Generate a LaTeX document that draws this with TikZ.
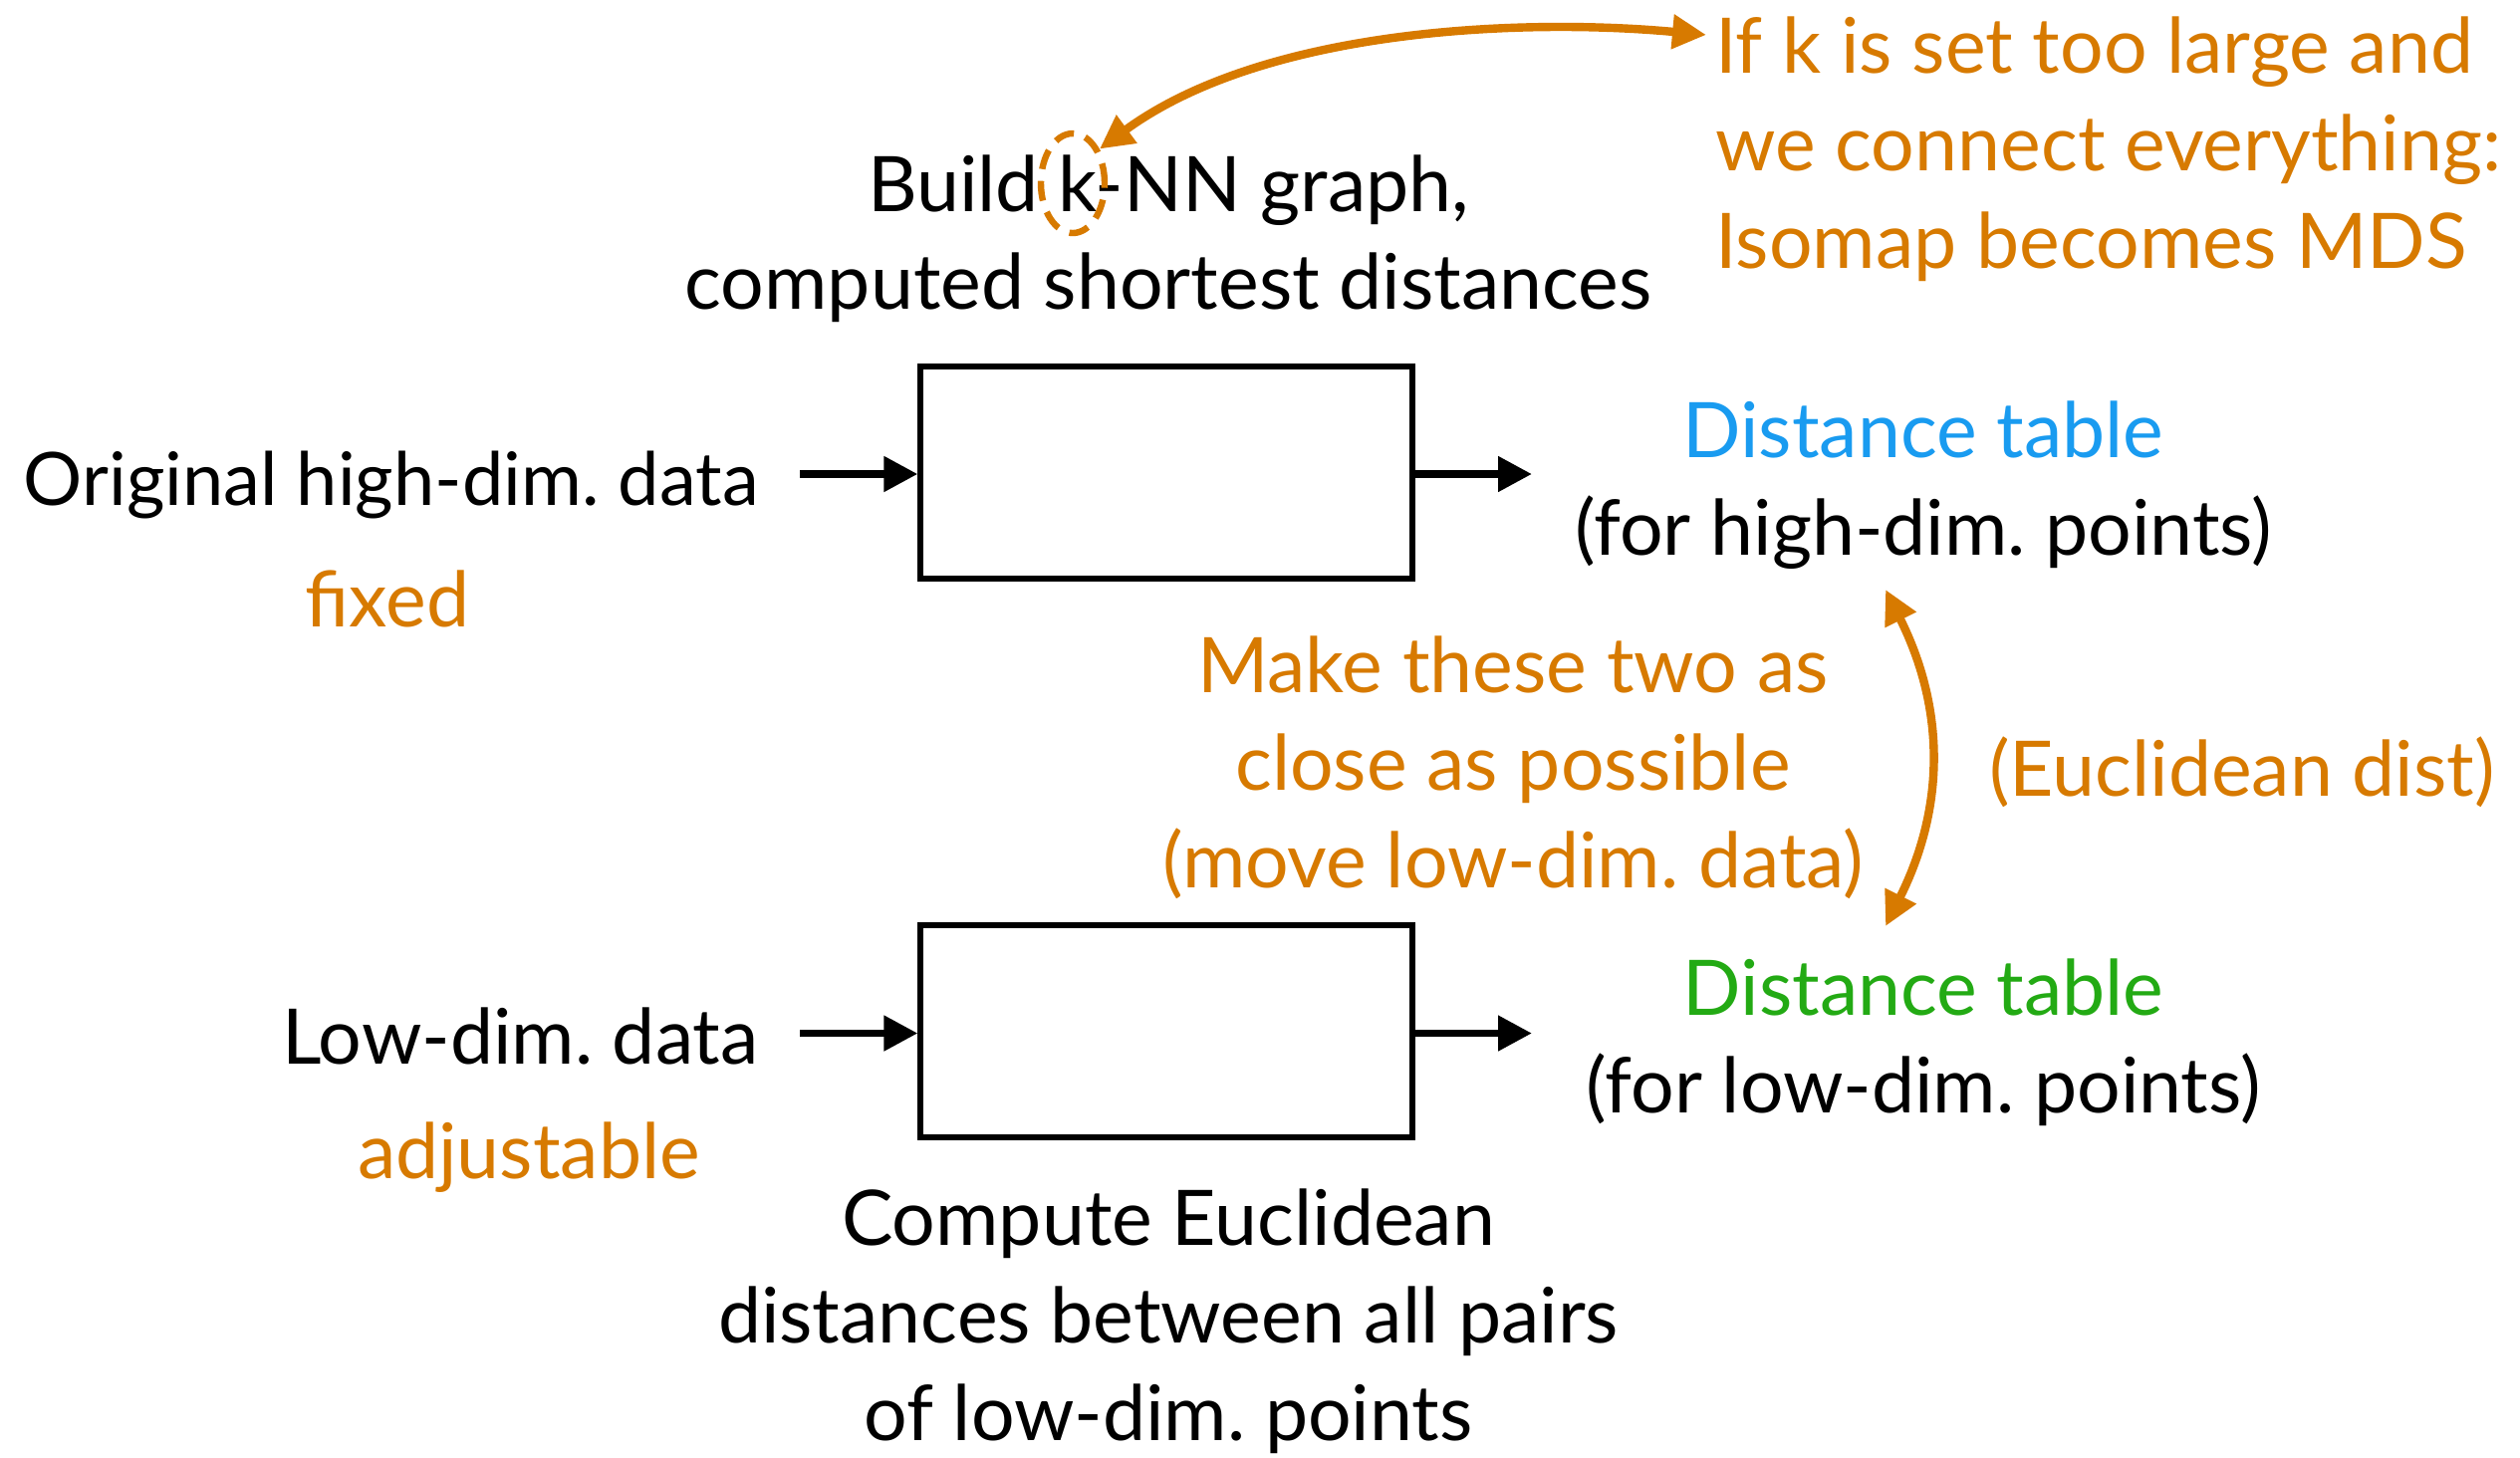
\documentclass[tikz,border=0pt]{standalone}
\usepackage{fontspec}
\setmainfont{Lato}
\usetikzlibrary{arrows.meta,shapes.geometric}
\definecolor{accent}{RGB}{215,122,0}
\definecolor{hiblue}{RGB}{25,155,240}
\definecolor{logreen}{RGB}{35,170,20}
\tikzset{
  txt/.style={inner sep=0pt, align=center,
    font=\frenchspacing\fontsize{38.5pt}{49pt}\selectfont},
  stagebox/.style={draw=black, line width=2.6pt, inner sep=0pt,
    minimum width=247pt, minimum height=106.5pt},
  flow/.style={line width=3.9pt, -{Triangle[length=17pt,width=17pt]}},
  remark/.style={draw=accent, line width=4.2pt,
    {Triangle[length=17pt,width=16.5pt]}-{Triangle[length=17pt,width=16.5pt]}},
  kring/.style={ellipse, draw=accent, line width=3.2pt, dash pattern=on 10pt off 6pt,
    minimum width=32pt, minimum height=50pt, inner sep=0pt}
}
\begin{document}
\begin{tikzpicture}[x=0.5pt, y=-0.5pt]
\useasboundingbox (0,0) rectangle (2530,1463);

% processing stages
\node[stagebox] (knn) at (1171,474.5) {};
\node[stagebox] (euc) at (1171,1035.5) {};

% inputs
\node[txt, anchor=base east, font=\frenchspacing\fontsize{37pt}{49pt}\selectfont]
  (orig) at (762,507) {Original high-dim. data};
\node[txt, anchor=base, text=accent] (fixed) at (389,629) {fixed};
\node[txt, anchor=base east] (low) at (762,1068) {Low-dim. data};
\node[txt, anchor=base, text=accent] (adj) at (531,1183) {adjustable};

\coordinate (origend) at (803,476);
\coordinate (lowend) at (803,1037.5);
\draw[flow] (origend) -- (knn.west |- origend);
\draw[flow] (lowend) -- (euc.west |- lowend);

% outputs
\coordinate (hiout) at (1538,476);
\coordinate (loout) at (1538,1037.5);
\draw[flow] (knn.east |- hiout) -- (hiout);
\draw[flow] (euc.east |- loout) -- (loout);

% multi-line texts are placed by the baseline of their last line
\node[txt, anchor=base] (hitab) at (1931,557)
  {\textcolor{hiblue}{Distance table}\\(for high-dim. points)};
\node[txt, anchor=base] (lotab) at (1931,1117)
  {\textcolor{logreen}{Distance table}\\(for low-dim. points)};

% stage captions
\node[txt, anchor=base] (knncap) at (1173,310)
  {Build k-NN graph,\\computed shortest distances};
\node[txt, anchor=base] (euccap) at (1173,1446)
  {Compute Euclidean\\distances between all pairs\\of low-dim. points};

% objective between the two tables
\node[txt, anchor=base, text=accent] (goal) at (1519,891)
  {Make these two as\\close as possible\\(move low-dim. data)};
\node[txt, anchor=base, text=accent] (eucl) at (2251,799) {(Euclidean dist)};
\coordinate (hitip) at (1893,592);
\coordinate (lotip) at (1893,930);
\draw[remark] (hitip) .. controls (1953,712) and (1953,810) .. (lotip);

% note on the neighbourhood size
\node[txt, anchor=base west, align=left, text=accent] (note) at (1722,269)
  {If k is set too large and\\we connect everything:\\Isomap becomes MDS};
\node[kring] (kr) at (1077,184) {};
\coordinate (notetip) at (1713,35);
\draw[remark] (kr.52) .. controls (1270,28) and (1530,18) .. (notetip);
\end{tikzpicture}
\end{document}
